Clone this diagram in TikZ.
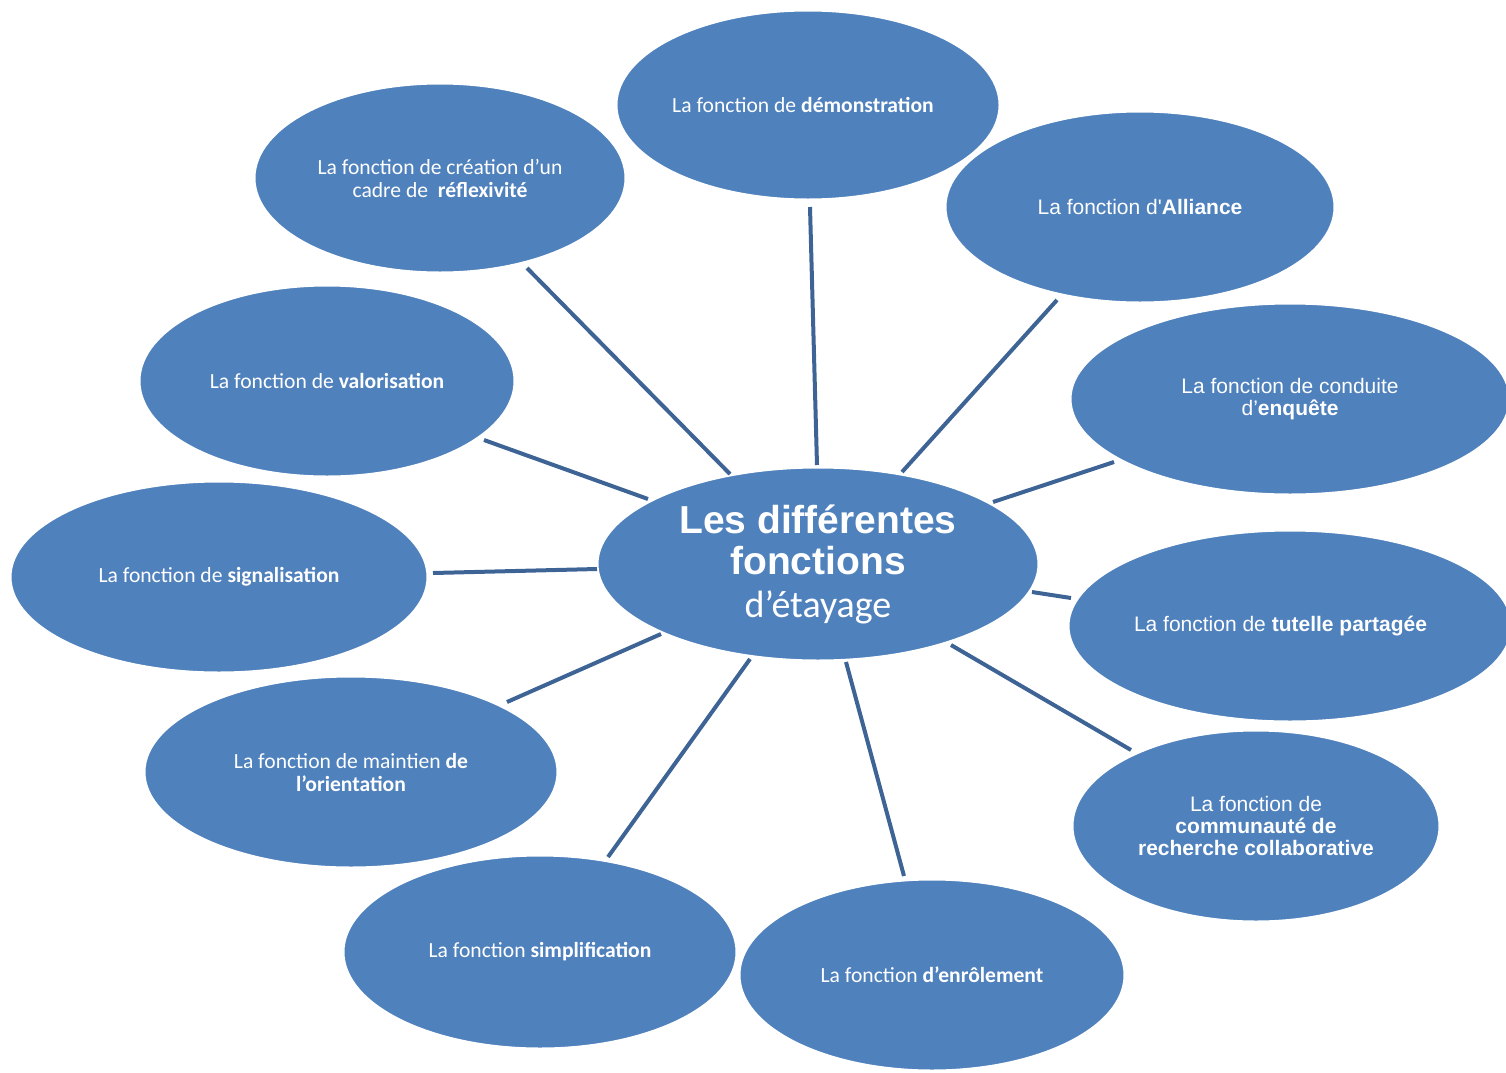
\documentclass[tikz,border=0pt]{standalone}
\usepackage{fontspec}
\setmainfont{Carlito}
\newfontfamily\lib{Liberation Sans}
\usetikzlibrary{shapes.geometric,calc}
\definecolor{bubble}{HTML}{4F81BD}
\definecolor{connline}{HTML}{3E6496}
\tikzset{
  bub/.style={ellipse, fill=bubble, draw=white, line width=1.5pt, inner sep=0pt, outer sep=0pt,
    text=white, align=center, font=\fontsize{10.8}{11.5}\selectfont},
  bubA/.style={bub, font=\lib\fontsize{10.5}{11}\selectfont},
  conn/.style={draw=connline, line width=2pt}
}
\begin{document}
\begin{tikzpicture}[x=0.5pt,y=-0.5pt]
\useasboundingbox (0,0) rectangle (1506,1072);
\clip (0,0) rectangle (1506,1072);
% outer bubbles
\node[bub, minimum width=190pt, minimum height=95pt] (demo) at (808,105) {La fonction de \textbf{démonstration}\hspace*{5pt}};
\node[bub, minimum width=186pt, minimum height=95pt] (refl) at (440,178) {La fonction de création d’un\\cadre de\ \ \textbf{réflexivité}};
\node[bubA, minimum width=195pt, minimum height=96pt] (alli) at (1140,207) {La fonction d'\textbf{Alliance}};
\node[bub, minimum width=188pt, minimum height=96pt] (valo) at (327,381) {La fonction de \textbf{valorisation}};
\node[bubA, minimum width=220pt, minimum height=96pt] (enq) at (1290,399) {La fonction de conduite\\d’\textbf{enquête}};
\node[bub, minimum width=209pt, minimum height=96pt] (sign) at (219,577) {La fonction de \textbf{signalisation}};
\node[bubA, minimum width=222pt, minimum height=96pt] (tut) at (1290,626) {\makebox[0pt][c]{\hspace*{-9.5pt}La fonction de \textbf{tutelle partagée}}};
\node[bub, minimum width=207pt, minimum height=96pt] (maint) at (351,772) {La fonction de maintien \textbf{de}\\\textbf{l’orientation}};
\node[bubA, minimum width=184pt, minimum height=96pt] (comm) at (1256,826) {La fonction de\\\bfseries communauté de\\\bfseries recherche collaborative};
\node[bub, minimum width=197pt, minimum height=97pt] (simp) at (540,952) {La fonction \textbf{simplification}};
\node[bub, minimum width=193pt, minimum height=96pt] (enr) at (932,975) {La fonction \textbf{d’enrôlement}};
% centre
\node[bub, minimum width=221pt, minimum height=97pt, font=\lib\bfseries\fontsize{19.5}{20.5}\selectfont] (ctr) at (818,564)
  {Les différentes\\fonctions\\[1pt]
   {\rmfamily\mdseries\fontsize{19}{19}\selectfont d’étayage}};
% connectors
\draw[conn] ($(demo)+(2,102)$) -- ($(ctr)+(-1,-99)$);
\draw[conn] ($(refl)+(87,90)$) -- ($(ctr)+(-88,-90)$);
\draw[conn] ($(alli)+(-83,93)$) -- ($(ctr)+(84,-92)$);
\draw[conn] ($(valo)+(157,59)$) -- ($(ctr)+(-170,-65)$);
\draw[conn] ($(enq)+(-176,63)$) -- ($(ctr)+(175,-62)$);
\draw[conn] ($(sign)+(214,-4)$) -- ($(ctr)+(-221,5)$);
\draw[conn] ($(tut)+(-219,-28)$) -- ($(ctr)+(214,28)$);
\draw[conn] ($(maint)+(156,-70)$) -- ($(ctr)+(-157,70)$);
\draw[conn] ($(comm)+(-125,-76)$) -- ($(ctr)+(133,81)$);
\draw[conn] ($(simp)+(68,-95)$) -- ($(ctr)+(-68,95)$);
\draw[conn] ($(enr)+(-28,-99)$) -- ($(ctr)+(28,98)$);
\end{tikzpicture}
\end{document}
